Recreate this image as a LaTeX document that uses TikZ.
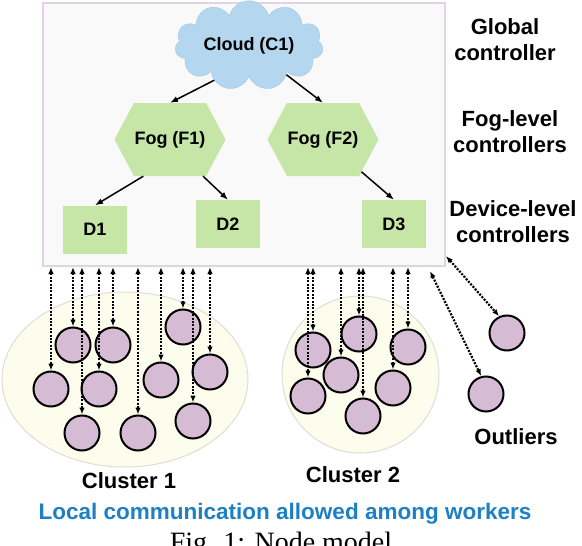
\documentclass[tikz,border=0pt]{standalone}
\usepackage{fontspec}
\setmainfont{Liberation Sans}
\newfontfamily\capfont{Liberation Serif}
\usetikzlibrary{shapes,arrows.meta}
\definecolor{boxfill}{RGB}{249,249,249}
\definecolor{boxline}{RGB}{226,211,228}
\definecolor{cloudblue}{RGB}{180,214,238}
\definecolor{cloudline}{RGB}{160,200,232}
\definecolor{foggreen}{RGB}{198,230,168}
\definecolor{workerfill}{RGB}{213,188,212}
\definecolor{clusterfill}{RGB}{253,253,238}
\definecolor{clusterline}{RGB}{222,222,212}
\definecolor{noteblue}{RGB}{30,128,196}

\begin{document}
\begin{tikzpicture}
  [x=1pt,y=-1pt,font=\bfseries,
   ctrlbox/.style={rectangle,draw=boxline,line width=2pt,fill=boxfill,minimum width=402pt,minimum height=263pt,inner sep=0pt},
   cloudnode/.style={cloud,cloud puffs=11,aspect=2,draw=cloudline,fill=cloudblue,minimum width=148pt,minimum height=75pt,inner sep=0pt,font=\fontsize{18}{21}\bfseries},
   fognode/.style={signal,signal to=east and west,signal pointer angle=124,fill=foggreen,minimum width=111pt,minimum height=73pt,inner sep=0pt,font=\fontsize{18}{21}\bfseries},
   devnode/.style={rectangle,fill=foggreen,minimum width=64pt,minimum height=48pt,inner sep=0pt,font=\fontsize{18}{21}\bfseries},
   worker/.style={circle,draw,line width=2pt,fill=workerfill,minimum size=35pt,inner sep=0pt},
   cluster/.style={ellipse,draw=clusterline,fill=clusterfill,line width=1pt,inner sep=0pt},
   tiertext/.style={align=center,font=\fontsize{22}{26}\bfseries},
   down/.style={-{Latex[length=8pt,width=6pt]},line width=1.5pt},
   link/.style={{Latex[length=7pt,width=5.5pt]}-{Latex[length=7pt,width=5.5pt]},line width=2.2pt,dash pattern=on 2pt off 1.4pt}]
  \useasboundingbox (0,0) rectangle (582,546);

  % controller hierarchy
  \node[ctrlbox] (ctrl) at (244,134.5) {};
  \node[cloudnode] (c1) at (249,45.5) {Cloud (C1)};
  \node[fognode] (f1) at (170,139.5) {Fog (F1)};
  \node[fognode] (f2) at (323,139.5) {Fog (F2)};
  \node[devnode] (d1) at (95,229.5) {D1};
  \node[devnode] (d2) at (228,224) {D2};
  \node[devnode] (d3) at (394,224) {D3};

  \draw[down] (c1.225) -- (f1.north);
  \draw[down] (c1.-38) -- (f2.north);
  \draw[down] (f1.234) -- (d1.north);
  \draw[down] (f1.-48) -- (d2.north);
  \draw[down] (f2.-40) -- (d3.north);

  \node[tiertext] (t1) at (505,40) {Global\\controller};
  \node[tiertext] (t2) at (510,132) {Fog-level\\controllers};
  \node[tiertext] (t3) at (513,222) {Device-level\\controllers};

  % clusters
  \node[cluster,minimum width=246pt,minimum height=175pt] (cl1) at (125,379.5) {};
  \node[cluster,minimum width=157pt,minimum height=157pt] (cl2) at (360.5,374.5) {};

  \node[worker] (w1) at (73,345) {};
  \node[worker] (w2) at (113,345) {};
  \node[worker] (w3) at (51,389) {};
  \node[worker] (w4) at (99,389) {};
  \node[worker] (w5) at (82,433) {};
  \node[worker] (w6) at (138,433) {};
  \node[worker] (w7) at (161,380) {};
  \node[worker] (w8) at (183,327) {};
  \node[worker] (w9) at (210,372) {};
  \node[worker] (w10) at (193,421) {};

  \node[worker] (v1) at (313,350) {};
  \node[worker] (v2) at (359,334) {};
  \node[worker] (v3) at (408,347) {};
  \node[worker] (v4) at (341,375) {};
  \node[worker] (v5) at (308,396) {};
  \node[worker] (v6) at (393,388) {};
  \node[worker] (v7) at (363,416) {};

  \node[worker] (o1) at (507,333) {};
  \node[worker] (o2) at (486,394) {};

  \foreach \w in {w1,w2,w3,w4,w5,w6,w7,w8,w9,w10,v1,v2,v3,v4,v5,v6,v7}
    \draw[link] (ctrl.south -| \w) -- (\w.north);

  \coordinate (e1) at ([yshift=11pt]ctrl.south east);
  \coordinate (e2) at ([xshift=-16pt,yshift=-4pt]ctrl.south east);
  \draw[link] (e1) -- (o1.115);
  \draw[link] (e2) -- (o2.105);

  \node[tiertext] (out) at (516,437) {Outliers};
  \node[tiertext] (n1) at (129,481) {Cluster 1};
  \node[tiertext] (n2) at (353,475) {Cluster 2};
  \node[font=\fontsize{22.5}{26}\bfseries,text=noteblue] (note) at (285,514) {Local communication allowed among workers};
  \node[font=\capfont\fontsize{28}{32}\selectfont,anchor=base] (cap) at (281,551.5) {Fig. 1: Node model};

\end{tikzpicture}
\end{document}
